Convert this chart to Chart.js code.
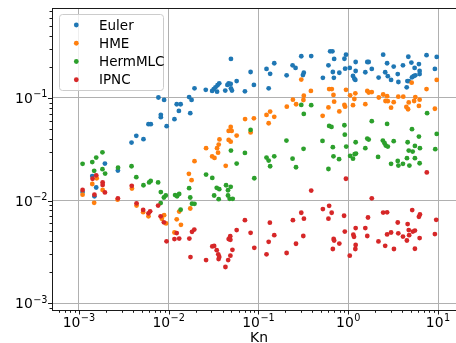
<!DOCTYPE html>
<html>
<head>
<meta charset="utf-8">
<script src="https://cdn.jsdelivr.net/npm/chart.js@4/dist/chart.umd.min.js"></script>
<style>
  html, body { margin: 0; padding: 0; background: #fff; overflow: hidden; }
  #wrap { width: 456px; height: 343px; overflow: hidden; }
  canvas { display: block; }
</style>
</head>
<body>
<div id="wrap"><canvas id="chart" width="470" height="343"></canvas></div>
<script>
// series names / colours
const seriesNames = ['Euler', 'HME', 'HermMLC', 'IPNC'];
const seriesColors = ['#1f77b4', '#ff7f0e', '#2ca02c', '#d62728'];

// [Kn, value] pairs
const euler = [[0.0011,0.0121],[0.00141,0.0173],[0.00149,0.011],[0.00156,0.0134],[0.00195,0.0229],[0.00272,0.0196],[0.00386,0.0367],[0.00436,0.0427],[0.00524,0.0396],[0.00596,0.0555],[0.00633,0.0555],[0.00818,0.0684],[0.00818,0.0649],[0.00769,0.101],[0.0089,0.0957],[0.0095,0.0531],[0.0116,0.0621],[0.0123,0.0868],[0.0136,0.0868],[0.013,0.0748],[0.0169,0.102],[0.018,0.0957],[0.0174,0.0711],[0.0194,0.124],[0.0259,0.120],[0.0305,0.117],[0.0318,0.122],[0.0332,0.127],[0.035,0.133],[0.0366,0.139],[0.0346,0.115],[0.0427,0.118],[0.0451,0.134],[0.0466,0.139],[0.0491,0.137],[0.0494,0.124],[0.0507,0.118],[0.0494,0.240],[0.0572,0.146],[0.0707,0.116],[0.0818,0.179],[0.089,0.134],[0.123,0.192],[0.135,0.172],[0.150,0.218],[0.130,0.124],[0.206,0.166],[0.240,0.208],[0.259,0.196],[0.300,0.255],[0.320,0.176],[0.313,0.167],[0.387,0.256],[0.522,0.157],[0.602,0.208],[0.629,0.285],[0.667,0.285],[0.697,0.240],[0.674,0.179],[0.692,0.157],[0.796,0.176],[0.907,0.241],[0.945,0.264],[0.923,0.193],[1.04,0.196],[1.13,0.164],[1.17,0.154],[1.20,0.150],[1.21,0.224],[1.21,0.183],[1.55,0.178],[1.63,0.224],[1.69,0.224],[1.83,0.192],[2.18,0.158],[2.45,0.264],[2.58,0.178],[2.71,0.218],[2.76,0.163],[3.0,0.150],[3.21,0.202],[3.56,0.171],[3.62,0.143],[4.07,0.208],[4.48,0.127],[4.56,0.146],[4.67,0.252],[4.74,0.146],[5.05,0.221],[5.13,0.159],[5.35,0.163],[5.49,0.196],[5.59,0.166],[6.13,0.214],[6.24,0.183],[6.24,0.171],[7.45,0.261],[9.23,0.192],[9.68,0.251]];

const hme = [[0.0011,0.0114],[0.00141,0.0145],[0.00148,0.0095],[0.00158,0.0165],[0.00184,0.0127],[0.0027,0.0102],[0.0039,0.0131],[0.00439,0.00895],[0.0052,0.0077],[0.00596,0.00702],[0.0084,0.00664],[0.0089,0.0072],[0.00936,0.00598],[0.0116,0.00488],[0.0123,0.00656],[0.0131,0.0078],[0.0137,0.0058],[0.0174,0.00836],[0.0168,0.0182],[0.018,0.0158],[0.0194,0.0242],[0.0261,0.0324],[0.0305,0.0269],[0.0324,0.026],[0.0355,0.0293],[0.0346,0.0324],[0.0361,0.0351],[0.0368,0.0394],[0.0432,0.0218],[0.0466,0.039],[0.0491,0.0375],[0.0466,0.0477],[0.0503,0.0477],[0.0491,0.0522],[0.0572,0.043],[0.071,0.0622],[0.089,0.0633],[0.0818,0.0461],[0.123,0.0683],[0.135,0.0736],[0.150,0.0654],[0.130,0.0567],[0.207,0.0823],[0.242,0.0963],[0.263,0.0868],[0.32,0.105],[0.317,0.0955],[0.30,0.151],[0.384,0.117],[0.519,0.0669],[0.602,0.0808],[0.613,0.122],[0.657,0.122],[0.685,0.107],[0.697,0.0919],[0.796,0.0739],[0.907,0.0855],[0.923,0.0823],[0.945,0.120],[1.05,0.106],[1.20,0.111],[1.17,0.0977],[1.13,0.085],[1.55,0.087],[1.63,0.117],[1.69,0.113],[1.83,0.114],[2.19,0.101],[2.45,0.108],[2.60,0.0934],[2.76,0.093],[2.71,0.104],[3.21,0.0909],[3.0,0.0804],[3.61,0.103],[4.10,0.103],[4.44,0.0817],[4.64,0.0776],[4.72,0.0905],[5.42,0.0934],[5.59,0.102],[6.24,0.0963],[6.13,0.0836],[9.23,0.0785],[7.45,0.122],[9.68,0.150],[5.09,0.141]];

const hermMLC = [[0.0011,0.0228],[0.00141,0.0237],[0.00156,0.0262],[0.00183,0.0295],[0.00148,0.0195],[0.00183,0.0202],[0.00196,0.0183],[0.00273,0.0209],[0.00386,0.0216],[0.00436,0.0169],[0.00524,0.0141],[0.00606,0.015],[0.00631,0.0155],[0.00763,0.015],[0.00818,0.0121],[0.00885,0.0107],[0.00929,0.0112],[0.00815,0.00945],[0.0118,0.0113],[0.0124,0.011],[0.0131,0.0116],[0.0136,0.00814],[0.0169,0.0132],[0.0174,0.0107],[0.0182,0.00933],[0.0194,0.00929],[0.0261,0.0179],[0.0306,0.0166],[0.0343,0.0133],[0.0366,0.0129],[0.0321,0.0112],[0.0361,0.0103],[0.0436,0.0141],[0.0491,0.0136],[0.0458,0.0126],[0.0458,0.0112],[0.0478,0.0104],[0.0517,0.0104],[0.0494,0.0307],[0.0572,0.0229],[0.0707,0.0291],[0.0899,0.0165],[0.0818,0.0488],[0.205,0.0384],[0.123,0.0262],[0.130,0.0245],[0.150,0.027],[0.135,0.0216],[0.240,0.0256],[0.262,0.0211],[0.30,0.0855],[0.32,0.0699],[0.387,0.085],[0.318,0.0319],[0.613,0.0534],[0.651,0.0522],[0.907,0.0542],[1.83,0.0594],[2.71,0.0558],[0.916,0.0439],[0.517,0.0381],[1.63,0.0402],[1.69,0.0393],[2.43,0.0384],[3.21,0.0379],[5.13,0.0496],[6.13,0.042],[9.68,0.0446],[0.674,0.0331],[0.95,0.0336],[1.21,0.037],[1.55,0.0324],[2.54,0.0362],[2.62,0.0343],[2.76,0.0336],[4.59,0.037],[5.53,0.0341],[6.29,0.0324],[9.32,0.0317],[4.72,0.0307],[5.22,0.030],[2.15,0.0266],[0.685,0.027],[0.791,0.0253],[1.05,0.0272],[1.13,0.0256],[1.18,0.0283],[1.22,0.0287],[4.51,0.0259],[5.53,0.0259],[3.56,0.0243],[3.0,0.0228],[3.62,0.0219],[4.07,0.0228],[4.80,0.0219],[6.24,0.0231],[0.602,0.0203],[7.56,0.0711]];

const ipnc = [[0.0011,0.0127],[0.00142,0.0163],[0.00149,0.0114],[0.00156,0.0176],[0.00184,0.015],[0.00184,0.0142],[0.00195,0.012],[0.00272,0.0105],[0.00388,0.0139],[0.00439,0.0094],[0.0052,0.0081],[0.00596,0.0075],[0.00622,0.00785],[0.00763,0.00893],[0.00814,0.00702],[0.00885,0.00613],[0.00947,0.0040],[0.0123,0.00482],[0.0116,0.00421],[0.0131,0.00426],[0.017,0.00426],[0.0175,0.00281],[0.0182,0.00496],[0.0193,0.00521],[0.0261,0.00263],[0.0306,0.00357],[0.0321,0.00361],[0.0343,0.00328],[0.0357,0.00299],[0.0366,0.00282],[0.036,0.00269],[0.0429,0.00225],[0.046,0.00263],[0.0487,0.0029],[0.0513,0.00331],[0.0466,0.00421],[0.0485,0.00449],[0.0487,0.00414],[0.0572,0.00515],[0.0707,0.00644],[0.0818,0.00485],[0.0899,0.00346],[0.123,0.00299],[0.134,0.00609],[0.130,0.00396],[0.150,0.0046],[0.206,0.00308],[0.242,0.00644],[0.262,0.00379],[0.30,0.0076],[0.321,0.00666],[0.316,0.00451],[0.387,0.0125],[0.522,0.00825],[0.613,0.00889],[0.654,0.0076],[0.602,0.00666],[0.899,0.00711],[0.688,0.00422],[0.697,0.00408],[0.674,0.00337],[0.796,0.00381],[0.916,0.00498],[1.04,0.0029],[1.14,0.00464],[1.16,0.00443],[1.21,0.00539],[1.21,0.00369],[1.20,0.00337],[1.55,0.00539],[1.66,0.00683],[1.63,0.00451],[2.17,0.00399],[2.45,0.00764],[2.71,0.00768],[2.58,0.00362],[2.71,0.00467],[3.0,0.00488],[3.23,0.00337],[3.56,0.00611],[3.61,0.00479],[4.07,0.00445],[4.50,0.00408],[4.59,0.0059],[4.72,0.00515],[4.77,0.0046],[5.16,0.00807],[5.24,0.00498],[5.53,0.0051],[5.53,0.00339],[6.13,0.00694],[6.29,0.00731],[6.24,0.00431],[9.23,0.00471],[9.55,0.00649],[0.943,0.0163],[1.83,0.0105],[7.50,0.0188]];

// axes
const xLimits = [5.02e-4, 20.5];
const yLimits = [8.57e-4, 0.753];
const xTicks = [1e-3, 1e-2, 1e-1, 1, 10];
const xTickExps = ['\u22123', '\u22122', '\u22121', '0', '1'];
const yTicks = [1e-3, 1e-2, 1e-1];
const yTickExps = ['\u22123', '\u22122', '\u22121'];
const xLabel = 'Kn';

const FONT = '"DejaVu Sans", sans-serif';

function minorTicks(lo, hi) {
  const out = [];
  for (let k = Math.floor(Math.log10(lo)); k <= Math.ceil(Math.log10(hi)); k++) {
    for (let m = 2; m <= 9; m++) {
      const v = m * Math.pow(10, k);
      if (v >= lo && v <= hi) out.push(v);
    }
  }
  return out;
}

// draws "10" with a raised exponent, starting at x0
function drawPow(ctx, exp, x0, base) {
  ctx.font = '13.9px ' + FONT;
  const w1 = ctx.measureText('10').width;
  ctx.fillText('10', x0, base);
  ctx.font = '9.7px ' + FONT;
  ctx.fillText(exp, x0 + w1 + 0.5, base - 5.8);
}
function powWidth(ctx, exp) {
  ctx.font = '13.9px ' + FONT;
  const w1 = ctx.measureText('10').width;
  ctx.font = '9.7px ' + FONT;
  return w1 + 0.5 + ctx.measureText(exp).width;
}

const axisDecor = {
  id: 'axisDecor',
  afterDatasetsDraw(chart) {
    const { ctx, chartArea: a, scales: { x, y } } = chart;
    ctx.save();
    ctx.strokeStyle = '#1a1a1a';
    ctx.lineWidth = 1;
    // spines
    ctx.strokeRect(a.left + 0.5, a.top + 0.5, a.right - a.left, a.bottom - a.top);

    ctx.beginPath();
    xTicks.forEach(v => {
      const p = Math.round(x.getPixelForValue(v)) + 0.5;
      ctx.moveTo(p, a.bottom); ctx.lineTo(p, a.bottom + 4.5);
    });
    minorTicks(xLimits[0], xLimits[1]).forEach(v => {
      const p = Math.round(x.getPixelForValue(v)) + 0.5;
      ctx.moveTo(p, a.bottom); ctx.lineTo(p, a.bottom + 2.8);
    });
    yTicks.forEach(v => {
      const p = Math.round(y.getPixelForValue(v)) + 0.5;
      ctx.moveTo(a.left, p); ctx.lineTo(a.left - 4, p);
    });
    minorTicks(yLimits[0], yLimits[1]).forEach(v => {
      const p = Math.round(y.getPixelForValue(v)) + 0.5;
      ctx.moveTo(a.left, p); ctx.lineTo(a.left - 2.5, p);
    });
    ctx.stroke();

    // tick labels
    ctx.fillStyle = '#000';
    ctx.textBaseline = 'alphabetic';
    ctx.textAlign = 'left';
    xTicks.forEach((v, i) => {
      const p = x.getPixelForValue(v);
      const w = powWidth(ctx, xTickExps[i]);
      drawPow(ctx, xTickExps[i], p - w / 2, a.bottom + 16.7);
    });
    yTicks.forEach((v, i) => {
      const p = y.getPixelForValue(v);
      const w = powWidth(ctx, yTickExps[i]);
      drawPow(ctx, yTickExps[i], 47.5 - w, p + 5.2);
    });

    // axis title
    ctx.font = '13.9px ' + FONT;
    ctx.textAlign = 'center';
    ctx.fillText(xLabel, (a.left + a.right) / 2, 341.5);

    // legend
    ctx.beginPath();
    ctx.roundRect(59.5, 14.5, 104, 76, 3);
    ctx.fillStyle = 'rgba(255,255,255,0.8)';
    ctx.fill();
    ctx.strokeStyle = '#cccccc';
    ctx.stroke();
    ctx.textAlign = 'left';
    ctx.font = '13.5px ' + FONT;
    seriesNames.forEach((name, i) => {
      const ry = 25 + i * 18.25;
      ctx.beginPath();
      ctx.arc(76.3, ry, 2.4, 0, Math.PI * 2);
      ctx.fillStyle = seriesColors[i];
      ctx.fill();
      ctx.fillStyle = '#000';
      ctx.fillText(name, 99, ry + 4.6);
    });
    ctx.restore();
  }
};

const seriesData = [euler, hme, hermMLC, ipnc];

new Chart(document.getElementById('chart'), {
  type: 'scatter',
  data: {
    datasets: seriesData.map((pts, i) => ({
      label: seriesNames[i],
      data: pts.map(p => ({ x: p[0], y: p[1] })),
      backgroundColor: seriesColors[i],
      borderWidth: 0,
      pointRadius: 2.4,
      order: seriesData.length - 1 - i
    }))
  },
  options: {
    responsive: false,
    animation: false,
    events: [],
    layout: { padding: { top: 8, right: 1, left: 0, bottom: 0 } },
    plugins: { legend: { display: false }, tooltip: { enabled: false } },
    scales: {
      x: {
        type: 'logarithmic',
        min: xLimits[0], max: xLimits[1],
        afterBuildTicks: s => { s.ticks = xTicks.map(v => ({ value: v })); },
        afterFit: s => { s.height = 33; },
        ticks: { display: false },
        grid: { color: '#b0b0b0', lineWidth: 1, drawTicks: false },
        border: { display: false }
      },
      y: {
        type: 'logarithmic',
        min: yLimits[0], max: yLimits[1],
        afterBuildTicks: s => { s.ticks = yTicks.map(v => ({ value: v })); },
        afterFit: s => { s.width = 52; },
        ticks: { display: false },
        grid: { color: '#b0b0b0', lineWidth: 1, drawTicks: false },
        border: { display: false }
      }
    }
  },
  plugins: [axisDecor]
});
</script>
</body>
</html>
